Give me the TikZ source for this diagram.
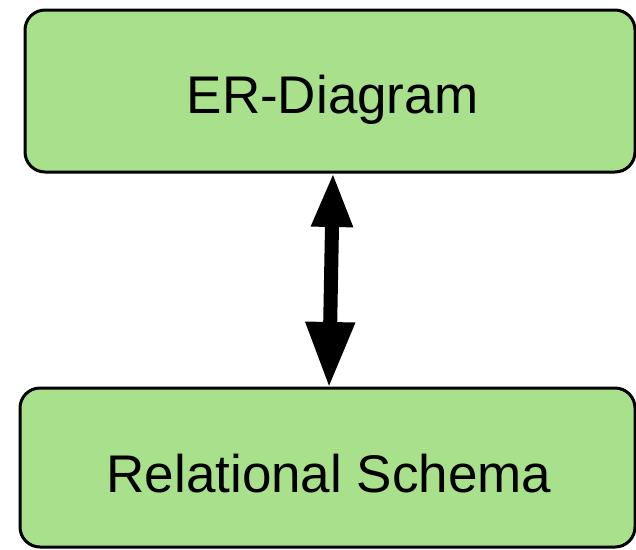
\documentclass[tikz,border=0pt]{standalone}
\usepackage{fontspec}
\setmainfont{Liberation Sans}
\usetikzlibrary{arrows.meta}
\definecolor{boxgreen}{HTML}{A9E08B}
\tikzset{
  box/.style={draw=black, fill=boxgreen, line width=3pt, rounded corners=20pt, outer sep=0pt, inner sep=0pt},
  lbl/.style={anchor=base, inner sep=0pt, font=\fontsize{53}{60}\selectfont},
  dblarrow/.style={line width=14pt, {Triangle[length=55pt,width=38pt]}-{Triangle[length=66pt,width=46pt]}}
}
\begin{document}
\begin{tikzpicture}[x=1pt,y=-1pt]
\useasboundingbox (0,0) rectangle (636,549);
\clip (0,0) rectangle (636,549);
\node[box, minimum width=610pt, minimum height=162pt] (er) at (330,91) {};
\node[box, minimum width=615pt, minimum height=159pt] (rs) at (327.5,467.5) {};
\node[lbl] (ert) at (332.5,113) {ER-Diagram};
\node[lbl] (rst) at (329,492) {Relational Schema};
\draw[dblarrow] ([xshift=3pt]er.south) -- ([xshift=1.5pt]rs.north);
\end{tikzpicture}
\end{document}
